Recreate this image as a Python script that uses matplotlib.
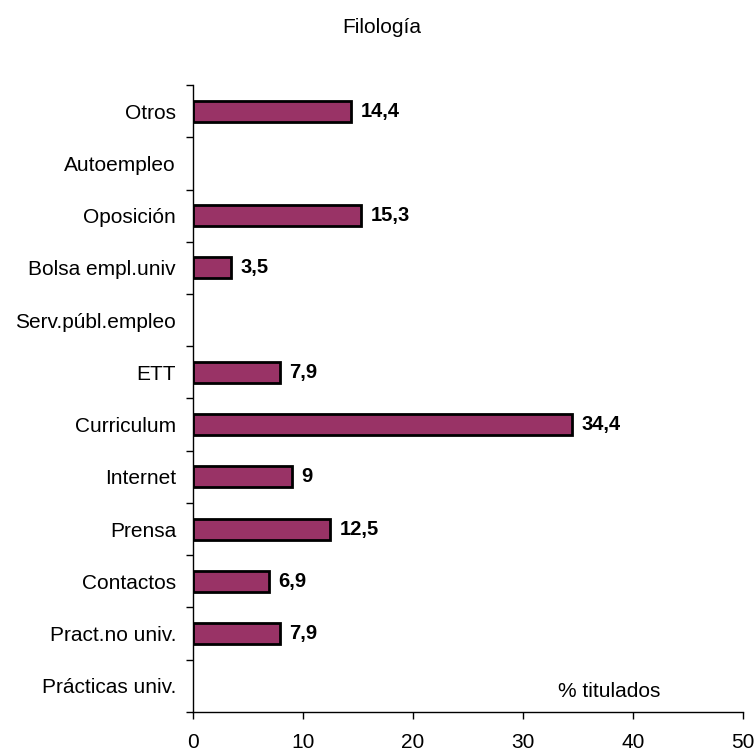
import matplotlib
matplotlib.use("Agg")
import matplotlib.pyplot as plt

# categories from bottom to top, None where no bar is drawn
categories = ["Prácticas univ.", "Pract.no univ.", "Contactos", "Prensa", "Internet",
              "Curriculum", "ETT", "Serv.públ.empleo", "Bolsa empl.univ", "Oposición",
              "Autoempleo", "Otros"]
values = [None, 7.9, 6.9, 12.5, 9, 34.4, 7.9, None, 3.5, 15.3, None, 14.4]
xticks = [0, 10, 20, 30, 40, 50]

plt.rcParams["font.family"] = ["Liberation Sans", "DejaVu Sans"]

fig = plt.figure(figsize=(7.56, 7.53), dpi=100)
ax = fig.add_axes([0.2549, 0.0545, 0.9832 - 0.2549, 0.8871 - 0.0545])

pos = range(len(categories))
for y, v in zip(pos, values):
    if v is None:
        continue
    ax.barh(y, v, height=0.4, color="#993366", edgecolor="black", linewidth=2)
    label = ("%g" % v).replace(".", ",")
    ax.annotate(label, (v, y), xytext=(7, 0), textcoords="offset points",
                va="center", ha="left", fontsize=14.5, fontweight="bold")

ax.set_xlim(0, 50)
ax.set_ylim(-0.5, len(categories) - 0.5)
ax.set_xticks(xticks)
ax.set_xticklabels([str(t) for t in xticks], fontsize=15)
ax.tick_params(axis="x", direction="out", length=5, width=1, pad=10)

# category labels centred in each band, ticks on the band edges
ax.set_yticks(list(pos))
ax.set_yticklabels(categories, fontsize=15)
ax.tick_params(axis="y", which="major", length=0, pad=12)
ax.set_yticks([i - 0.5 for i in range(len(categories) + 1)], minor=True)
ax.tick_params(axis="y", which="minor", direction="out", length=5, width=1)

for s in ["top", "right"]:
    ax.spines[s].set_visible(False)
ax.spines["left"].set_linewidth(1)
ax.spines["bottom"].set_linewidth(1)

fig.text(0.505, 0.963, "Filología", ha="center", va="center", fontsize=15)
ax.text(0.756, 0.032, "% titulados", transform=ax.transAxes, ha="center",
        va="center", fontsize=15)

fig.savefig("out.png", dpi=100)
